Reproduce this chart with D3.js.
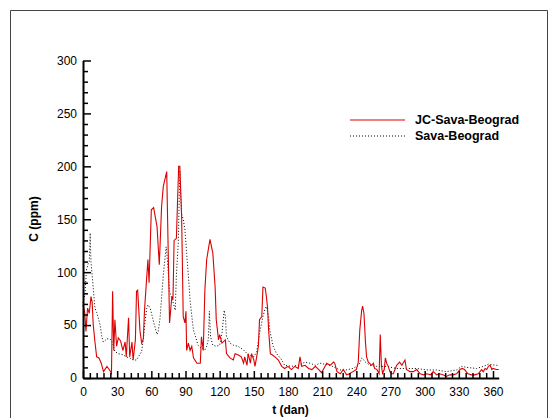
<!DOCTYPE html>
<html>
<head>
<meta charset="utf-8">
<script src="https://cdn.jsdelivr.net/npm/d3@7"></script>
<style>
  html, body { margin: 0; padding: 0; background: #fff; }
  svg { display: block; font-family: "Liberation Sans", Arial, sans-serif; }
</style>
</head>
<body>
<svg id="chart" width="556" height="418"></svg>
<script>
// ---- data ----
const seriesNames = ["JC-Sava-Beograd", "Sava-Beograd"];
const xTicks = [0, 30, 60, 90, 120, 150, 180, 210, 240, 270, 300, 330, 360];
const yTicks = [0, 50, 100, 150, 200, 250, 300];

const jcDays = [0,1.5,2.6,4,5.5,7,8,9,10.5,12,
  14,16,18,21,23,25,26,27,28,29.5,
  31,33,35,37,38,40,41,43,44,46,
  47,48,50,51.5,53,54,56,57,58,60,
  62,65,67,69,70.5,73.5,76,78,79,80,
  82,84,85,86.6,88,89.5,90.4,91,92.5,94,
  95.5,97,100,103,104,105.6,107,108.6,111.5,114,
  116,117,119,120,122,125,126,129,132,133.5,
  136,139,141,142,144,145,147,148,150,151,
  152.5,154,155,157,158,160,161,162,163,164.5,
  166,168.5,171.5,174.5,177,180,183,186,189,190.5,
  192,195,198,201,204,207,209.5,211,214,217,
  220,221,223,226,228.5,231.5,234,237,240,241.7,
  243,244.7,245.5,246.7,248,249,250.5,253.5,255,256,
  258,260,261,262,263,264.5,265.5,266.6,268,269.5,
  271,272.5,275.4,278,280,281,282.7,284,287,290,
  293,296,299,302,305,307.6,310.5,313,316,319,
  322,325,328,331,333,335,338,341,344,347,
  350,351.5,353,354.5,356,357.5,359,360,363,365];
const jcValues = [69,62,44,66,61,77,72,50,34,20,
  19,14,6,11,8,4.5,82,26,55,30,
  38,35,26,34,20,57,20,34,17,36,
  82,83,45,33,37,64,96,112,90,159,
  161,143,107,162,181,195,52,77,74,130,
  132,200,200,153,58,52,63,26,33,26,
  30,19,14,14,39,26,83,112,131,118,
  86,55,36,41,33,36,23,19,17,23,
  22,20,14,20,12,23,14,23,17,11,
  20,30,55,58,86,85,77,67,45,23,
  22,20,17,11,9,11,8,11,9,20,
  11,12,9,8,11,8,5,8,14,12,
  15,14,6,4,8,3,4,6,8,15,
  45,64,68,61,34,20,15,12,14,9,
  8,4,41,12,4.5,8,19,14,11,6,
  4,4,12,15,12,14,17,8,6,6,
  8,4,3,4,3,6,3,4,3,1.5,
  3,3,4,8,9,8,4,3,3,4,
  8,6,9,8,11,12,8,9,8,8];

const savaDays = [0,1.8,3,4.6,5.5,6.3,7,9,10.5,12,
  13.4,15,16.4,17.8,19,21,23.7,25.7,28,31,
  35,38,41,44,47,48.6,51.5,53,54.4,56,
  57,59,62,65,66,67.6,70.5,73,74,76,
  79,81,82,83.7,85,86.5,88,89.5,91,92.5,
  94,95.4,97,98,101,104,107,108.6,110,111,
  112,114,117,120,122,124,125,126,129,132,
  136,141,145,150,152.5,155,158,160,161,163,
  164,167,170,174.5,177,183,189,195,199,204,
  208,212,217,221,225.6,231,237,242,245,248,
  252,258,267,275,284,293,302,310.5,319,328,
  332.5,337,345.6,351.5,356,363,365];
const savaValues = [71,80,102,108,110,137,110,85,66,62,
  57,50,40,34,35,37,37,34,25,23,
  22,20,19,17,17,20,25,37,53,66,
  69,66,53,41,44,56,97,124,113,82,
  72,64,97,129,196,155,150,140,118,97,
  74,60,45,42,31,28,26.5,30,36,63,
  39,31,30,31,42,64,58,39,33,31,
  30,26.5,22,20,25,42,58,66,67.5,58,
  45,30,23,17,12,11,12,15,14,12,
  14,13,12,10,7.6,7.6,9,12,19,15,
  12,11,11,9,9,9,7.6,7.6,6,7.6,
  11,10,9,11,13,12,12];

// ---- drawing ----
const svg = d3.select("#chart");
const x = d3.scaleLinear().domain([0, 365]).range([83, 498.7]);
const y = d3.scaleLinear().domain([0, 300]).range([378, 60.5]);

// outer frame
svg.append("path")
  .attr("d", "M10.5,418 V10.5 H547.5 V418")
  .attr("fill", "none").attr("stroke", "#444").attr("stroke-width", 1);

const jcData = jcDays.map((d, i) => [d, jcValues[i]]);
const savaData = savaDays.map((d, i) => [d, savaValues[i]]);
const line = d3.line().x(d => x(d[0])).y(d => y(d[1]));

svg.append("path").datum(savaData)
  .attr("d", line).attr("fill", "none")
  .attr("stroke", "#000").attr("stroke-width", 1)
  .attr("stroke-dasharray", "1,2");

svg.append("path").datum(jcData)
  .attr("d", line).attr("fill", "none")
  .attr("stroke", "#dd0000").attr("stroke-width", 1.1);

// axes
const yMinor = d3.range(0, 301, 10).filter(v => v % 50 !== 0);
const xMinor = d3.range(0, 366, 6).filter(v => v % 30 !== 0);

svg.append("g").attr("transform", "translate(83,0)")
  .call(d3.axisLeft(y).tickValues(yMinor).tickSize(-5).tickSizeOuter(0).tickFormat(""))
  .call(g => g.select(".domain").remove());
const gy = svg.append("g").attr("transform", "translate(83,0)")
  .call(d3.axisLeft(y).tickValues(yTicks).tickSize(-8).tickSizeOuter(0).tickPadding(6));

svg.append("g").attr("transform", "translate(0,378)")
  .call(d3.axisBottom(x).tickValues(xMinor).tickSize(-5).tickSizeOuter(0).tickFormat(""))
  .call(g => g.select(".domain").remove());
const gx = svg.append("g").attr("transform", "translate(0,378)")
  .call(d3.axisBottom(x).tickValues(xTicks).tickSize(-7).tickSizeOuter(0).tickPadding(9));

svg.selectAll(".tick line").attr("stroke", "#000").attr("stroke-width", 1.5);
svg.selectAll(".domain").attr("stroke", "#000").attr("stroke-width", 2);
svg.selectAll(".tick text")
  .attr("font-family", "Liberation Sans, Arial, sans-serif")
  .attr("font-size", 12).attr("fill", "#000");

// axis titles
svg.append("text").attr("x", 290.5).attr("y", 414)
  .attr("text-anchor", "middle").attr("font-weight", "bold")
  .attr("font-size", 12).text("t (dan)");
svg.append("text").attr("transform", "translate(38,219) rotate(-90)")
  .attr("text-anchor", "middle").attr("font-weight", "bold")
  .attr("font-size", 12).text("C (ppm)");

// legend
const legend = svg.append("g");
legend.append("line").attr("x1", 350).attr("x2", 405).attr("y1", 120).attr("y2", 120)
  .attr("stroke", "#dd0000").attr("stroke-width", 1.1);
legend.append("line").attr("x1", 350).attr("x2", 405).attr("y1", 136).attr("y2", 136)
  .attr("stroke", "#000").attr("stroke-width", 1).attr("stroke-dasharray", "1,2");
legend.selectAll("text.leg").data(seriesNames).join("text")
  .attr("class", "leg")
  .attr("x", 415).attr("y", (d, i) => 120 + i * 15.5)
  .attr("dy", "0.35em").attr("font-weight", "bold").attr("font-size", 12.5)
  .text(d => d);
</script>
</body>
</html>
